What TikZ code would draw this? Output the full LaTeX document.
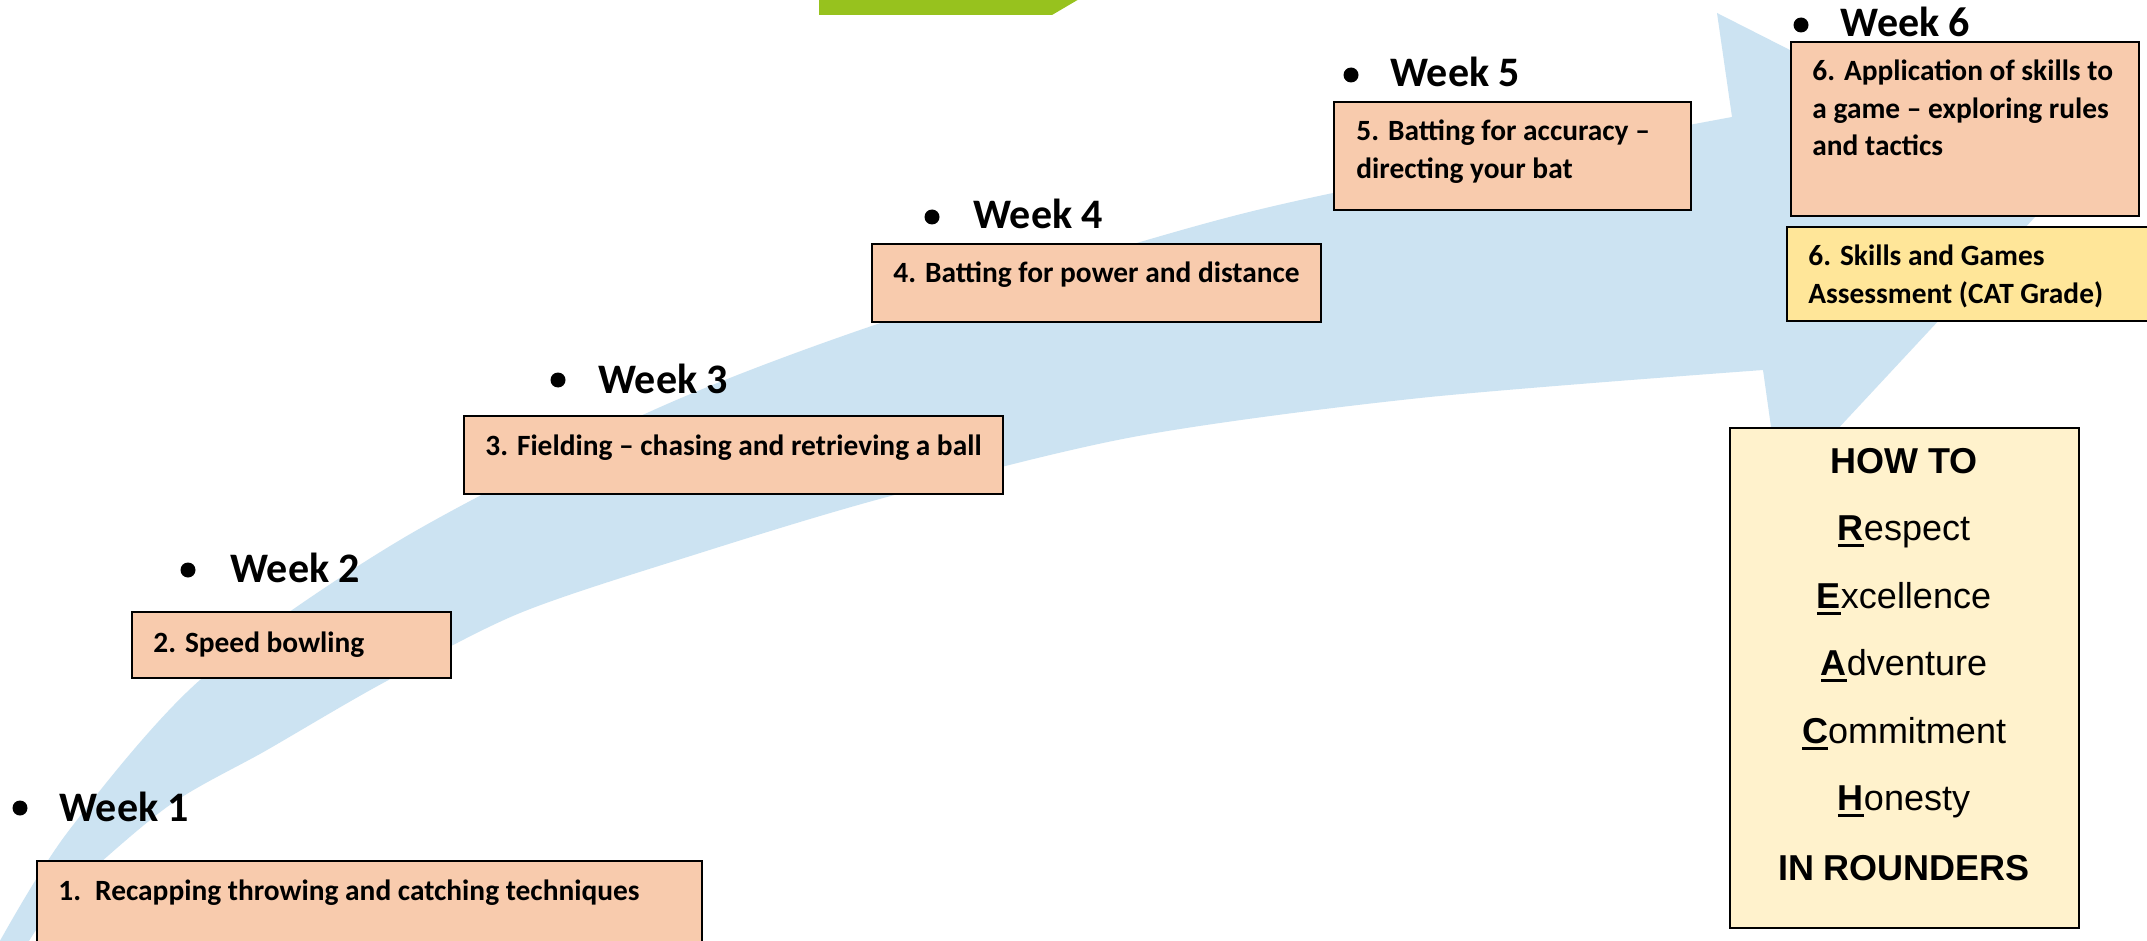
\documentclass[tikz,border=0pt]{standalone}
\usepackage{fontspec}
\setmainfont{Carlito}
\newfontfamily\arialf{Liberation Sans}
\definecolor{arrowblue}{RGB}{204,227,242}
\definecolor{peach}{RGB}{248,203,173}
\definecolor{gold}{RGB}{255,230,153}
\definecolor{cream}{RGB}{255,242,204}
\definecolor{leaf}{RGB}{151,194,30}
\newcommand{\fl}[1]{\setbox0\hbox{\bfseries #1}\rlap{\rule[-3.4pt]{\wd0}{1.3pt}}\box0}
\tikzset{
  pbox/.style={draw=black, line width=1pt, fill=peach, inner sep=0pt},
  gbox/.style={pbox, fill=gold},
  cbox/.style={pbox, fill=cream},
  txt/.style={font=\bfseries\fontsize{14.7}{18}\selectfont, inner sep=0pt, anchor=base west},
  wk/.style={font=\bfseries\fontsize{21}{25}\selectfont, inner sep=0pt, anchor=base west},
  bul/.style={circle, fill=black, inner sep=0pt, minimum size=7.5pt},
  rl/.style={font=\arialf\fontsize{18}{22}\selectfont, inner sep=0pt, anchor=base},
  rlb/.style={rl, font=\arialf\bfseries\fontsize{18}{22}\selectfont}
}
\begin{document}
\begin{tikzpicture}[x=0.5pt,y=-0.5pt]
\useasboundingbox (0,0) rectangle (2147,941);
\clip (0,0) rectangle (2147,941);
\fill[white] (0,0) rectangle (2147,941);
% green fragment at top
\fill[leaf] (819,-5) -- (819,15) -- (1052,15) -- (1086,-5) -- cycle;
% big curved blue arrow
\fill[arrowblue]
  plot[smooth, tension=0.5] coordinates {(-4,948) (67,833) (200,680) (400,540) (647,413) (860,330) (1147,240) (1333,193) (1732,117)}
  -- (1717,13) -- (2062,188) -- (1780,491) -- (1763,370)
  -- plot[smooth, tension=0.5] coordinates {(1763,370) (1420,398) (1133,437) (887,497) (700,553) (520,613) (383,683) (267,750) (167,807) (60,900) (25,948)}
  -- cycle;
% week labels
\node[bul] (b1) at (20,808) {};   \node[wk] (w1) at (59,821) {Week 1};
\node[bul] (b2) at (188,570) {};  \node[wk] (w2) at (230,582) {Week 2};
\node[bul] (b3) at (558,380) {};  \node[wk] (w3) at (598,393) {Week 3};
\node[bul] (b4) at (932,217) {};  \node[wk] (w4) at (973,229) {Week 4};
\node[bul] (b5) at (1351,75) {};  \node[wk] (w5) at (1390,87) {Week 5};
\node[bul] (b6) at (1801,25) {};  \node[wk] (w6) at (1840,37) {Week 6};
% boxes
\node[pbox, minimum width=332.5pt, minimum height=49.5pt] (box1) at (369.5,910.5) {};
\node[txt] (t1) at (58,900) {1.\hspace{7pt}Recapping throwing and catching techniques};
\node[pbox, minimum width=159.5pt, minimum height=33pt] (box2) at (291.5,645) {};
\node[txt] (t2) at (153,652) {2. Speed bowling};
\node[pbox, minimum width=269.5pt, minimum height=39pt] (box3) at (733,455) {};
\node[txt] (t3) at (485,455) {3. Fielding \textendash{} chasing and retrieving a ball};
\node[pbox, minimum width=224.5pt, minimum height=39pt] (box4) at (1096.5,283) {};
\node[txt] (t4) at (893,283) {4. Batting for power and distance};
\node[pbox, minimum width=178.5pt, minimum height=54pt] (box5) at (1512.5,156) {};
\node[txt] (t5a) at (1356,141) {5. Batting for accuracy \textendash};
\node[txt] (t5b) at (1356,178.5) {directing your bat};
\node[pbox, minimum width=174pt, minimum height=87pt] (box6) at (1965,129) {};
\node[txt] (t6a) at (1812,81) {6. Application of skills to};
\node[txt] (t6b) at (1812,118.5) {a game \textendash{} exploring rules};
\node[txt] (t6c) at (1812,156) {and tactics};
\node[gbox, minimum width=186.5pt, minimum height=47pt] (box7) at (1973.5,274) {};
\node[txt] (t7a) at (1808,266) {6. Skills and Games};
\node[txt] (t7b) at (1808,303.5) {Assessment (CAT Grade)};
% REACH box
\node[cbox, minimum width=174.5pt, minimum height=250pt] (reach) at (1904.5,678) {};
\node[rlb] (h0) at (1904,473) {HOW TO};
\node[rl] (h1) at (1904,540) {\fl{R}espect};
\node[rl] (h2) at (1904,608) {\fl{E}xcellence};
\node[rl] (h3) at (1904,675) {\fl{A}dventure};
\node[rl] (h4) at (1904,743) {\fl{C}ommitment};
\node[rl] (h5) at (1904,810) {\fl{H}onesty};
\node[rlb] (h6) at (1904,880) {IN ROUNDERS};
\end{tikzpicture}
\end{document}
